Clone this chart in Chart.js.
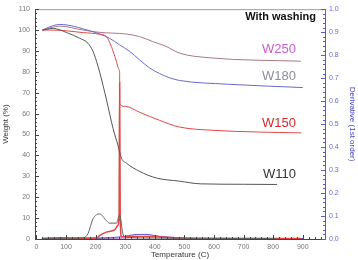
<!DOCTYPE html>
<html>
<head>
<meta charset="utf-8">
<script src="https://cdn.jsdelivr.net/npm/chart.js@4"></script>
<style>
  html, body { margin: 0; padding: 0; background: #fff; }
  #wrap { width: 358px; height: 260px; }
</style>
</head>
<body>
<div id="wrap"><canvas id="tga"></canvas></div>
<script>
// tick labels
const tempTicks = [0, 100, 200, 300, 400, 500, 600, 700, 800, 900];
const weightTicks = [0, 10, 20, 30, 40, 50, 60, 70, 80, 90, 100, 110];
const derivTicks = [0, 0.1, 0.2, 0.3, 0.4, 0.5, 0.6, 0.7, 0.8, 0.9, 1.0];

// weight curves (temperature, weight %)
const w110T = [20, 57, 102, 146, 174, 191, 203, 214, 236, 259, 275, 287, 304, 348, 405, 483, 554, 700, 813];
const w110W = [100, 100.8, 98.8, 96.1, 93.7, 89.8, 85, 79.6, 67, 52.8, 45, 38.7, 36.3, 32.4, 29.2, 27.7, 26.4, 26.2, 26.1];

const w150T = [20, 57, 158, 214, 236, 253, 270, 279, 281, 281.3, 300, 348, 416, 483, 600, 750, 895];
const w150W = [100, 100, 98.8, 98, 96.9, 92.2, 85.1, 81.1, 79.6, 64.6, 63.5, 60.7, 56.8, 53.6, 52, 51.2, 50.8];

const w180T = [20, 45, 79, 180, 214, 247, 281, 315, 348, 382, 416, 449, 483, 645, 900];
const w180W = [100, 101.6, 102.7, 99.7, 98.1, 96.1, 92.9, 89.8, 85.8, 81.9, 79.2, 77.2, 75.9, 74.1, 72.5];

const w250T = [20, 79, 158, 214, 304, 348, 393, 438, 483, 589, 894];
const w250W = [100, 101.9, 100, 98.9, 98.1, 96.9, 94.5, 92.2, 89, 86.7, 85.1];

// derivative curves (temperature, 1st order derivative)
const d110T = [20, 100, 157, 174, 191, 214, 236, 247, 270, 281, 292, 304, 400, 600, 810];
const d110D = [0.002, 0.003, 0.005, 0.023, 0.088, 0.109, 0.08, 0.069, 0.069, 0.105, 0.023, 0.006, 0.004, 0.002, 0.002];

const d150T = [20, 150, 203, 214, 236, 264, 275, 279, 281, 283, 287, 320, 400, 500, 895];
const d150D = [0.002, 0.003, 0.004, 0.016, 0.03, 0.04, 0.059, 0.1, 0.68, 0.1, 0.01, 0.012, 0.01, 0.003, 0.002];

const d180T = [20, 80, 150, 250, 300, 340, 370, 420, 480, 600, 900];
const d180D = [0.003, 0.006, 0.004, 0.006, 0.012, 0.02, 0.02, 0.01, 0.003, 0.002, 0.002];

const d250T = [20, 150, 300, 350, 400, 450, 520, 900];
const d250D = [0.002, 0.002, 0.004, 0.01, 0.013, 0.009, 0.003, 0.002];

function pts(xs, ys) {
    return xs.map((x, i) => ({ x: x, y: ys[i] }));
}

function line(label, xs, ys, color, axis, width) {
    return {
        label: label,
        data: pts(xs, ys),
        borderColor: color,
        backgroundColor: color,
        borderWidth: width || 1,
        pointRadius: 0,
        cubicInterpolationMode: 'monotone',
        yAxisID: axis
    };
}

// inner tick marks + curve labels
const decor = {
    id: 'decor',
    afterDraw(chart) {
        const ctx = chart.ctx;
        const a = chart.chartArea;
        const sx = chart.scales.x, sy = chart.scales.y, sd = chart.scales.y1;
        ctx.save();
        ctx.lineWidth = 1;

        // top frame
        ctx.strokeStyle = '#9a9aa8';
        ctx.beginPath();
        ctx.moveTo(a.left, a.top + 0.5);
        ctx.lineTo(a.right, a.top + 0.5);
        ctx.stroke();

        // x ticks
        ctx.strokeStyle = '#444';
        for (let v = 0; v <= 960; v += 20) {
            const px = Math.round(sx.getPixelForValue(v)) + 0.5;
            const len = v % 100 === 0 ? 4 : 2;
            ctx.beginPath();
            ctx.moveTo(px, a.bottom);
            ctx.lineTo(px, a.bottom - len);
            ctx.stroke();
        }
        // left ticks
        for (let v = 0; v <= 110; v += 2) {
            const py = Math.round(sy.getPixelForValue(v)) + 0.5;
            const len = v % 10 === 0 ? 4 : 2;
            ctx.beginPath();
            ctx.moveTo(a.left, py);
            ctx.lineTo(a.left + len, py);
            ctx.stroke();
        }
        // right ticks
        ctx.strokeStyle = '#5a5ad0';
        for (let i = 0; i <= 50; i++) {
            const py = Math.round(sd.getPixelForValue(i * 0.02)) + 0.5;
            const len = i % 5 === 0 ? 4 : 2;
            ctx.beginPath();
            ctx.moveTo(a.right, py);
            ctx.lineTo(a.right - len, py);
            ctx.stroke();
        }

        // texts
        ctx.textBaseline = 'middle';
        ctx.textAlign = 'right';
        ctx.fillStyle = '#111';
        ctx.font = 'bold 11px "Liberation Sans", Arial, sans-serif';
        ctx.fillText('With washing', 316, 17);

        ctx.textAlign = 'left';
        ctx.font = '13px "Liberation Sans", Arial, sans-serif';
        ctx.fillStyle = '#c95bd6';
        ctx.fillText('W250', 262, 49);
        ctx.fillStyle = '#8a9098';
        ctx.fillText('W180', 262, 76);
        ctx.fillStyle = '#d42a2a';
        ctx.fillText('W150', 262, 123);
        ctx.fillStyle = '#333';
        ctx.fillText('W110', 263, 174);
        ctx.restore();
    }
};

const tickFont = { family: '"Liberation Sans", Arial, sans-serif', size: 7 };
const titleFont = { family: '"Liberation Sans", Arial, sans-serif', size: 8 };

new Chart(document.getElementById('tga'), {
    type: 'line',
    data: {
        datasets: [
            line('W110', w110T, w110W, '#555555', 'y'),
            line('W150', w150T, w150W, '#e04848', 'y'),
            line('W180', w180T, w180W, '#6a6acc', 'y'),
            line('W250', w250T, w250W, '#a8788c', 'y'),
            line('dW110', d110T, d110D, '#666666', 'y1'),
            line('dW150', d150T, d150D, '#e04848', 'y1', 1.5),
            line('dW180', d180T, d180D, '#5a5ad0', 'y1'),
            line('dW250', d250T, d250D, '#b070b8', 'y1')
        ]
    },
    options: {
        responsive: true,
        maintainAspectRatio: false,
        animation: false,
        layout: { padding: { top: 6, left: 0, right: 0, bottom: 0 } },
        plugins: {
            legend: { display: false },
            tooltip: { enabled: false }
        },
        scales: {
            x: {
                type: 'linear',
                min: -5,
                max: 975,
                afterBuildTicks: s => { s.ticks = tempTicks.map(v => ({ value: v })); },
                afterFit: s => { s.height = 21; },
                grid: { display: false, drawTicks: false },
                border: { display: true, color: '#444' },
                ticks: { color: '#777', font: tickFont, padding: 4, maxRotation: 0 },
                title: { display: true, text: 'Temperature (C)', color: '#333', font: titleFont, padding: 0 }
            },
            y: {
                position: 'left',
                min: 0,
                max: 110,
                afterBuildTicks: s => { s.ticks = weightTicks.map(v => ({ value: v })); },
                afterFit: s => { s.width = 35; },
                grid: { display: false, drawTicks: false },
                border: { display: true, color: '#444' },
                ticks: { color: '#777', font: tickFont, padding: 5 },
                title: { display: true, text: 'Weight (%)', color: '#333', font: titleFont, padding: 1 }
            },
            y1: {
                position: 'right',
                min: 0,
                max: 1,
                afterBuildTicks: s => { s.ticks = derivTicks.map(v => ({ value: v })); },
                afterFit: s => { s.width = 33; },
                grid: { display: false, drawTicks: false },
                border: { display: true, color: '#5a5ad0' },
                ticks: { color: '#6a6ad0', font: tickFont, padding: 4, callback: v => v.toFixed(1) },
                title: { display: true, text: 'Derivative (1st order)', color: '#4444cc', font: titleFont, padding: 1 }
            }
        }
    },
    plugins: [decor]
});
</script>
</body>
</html>
